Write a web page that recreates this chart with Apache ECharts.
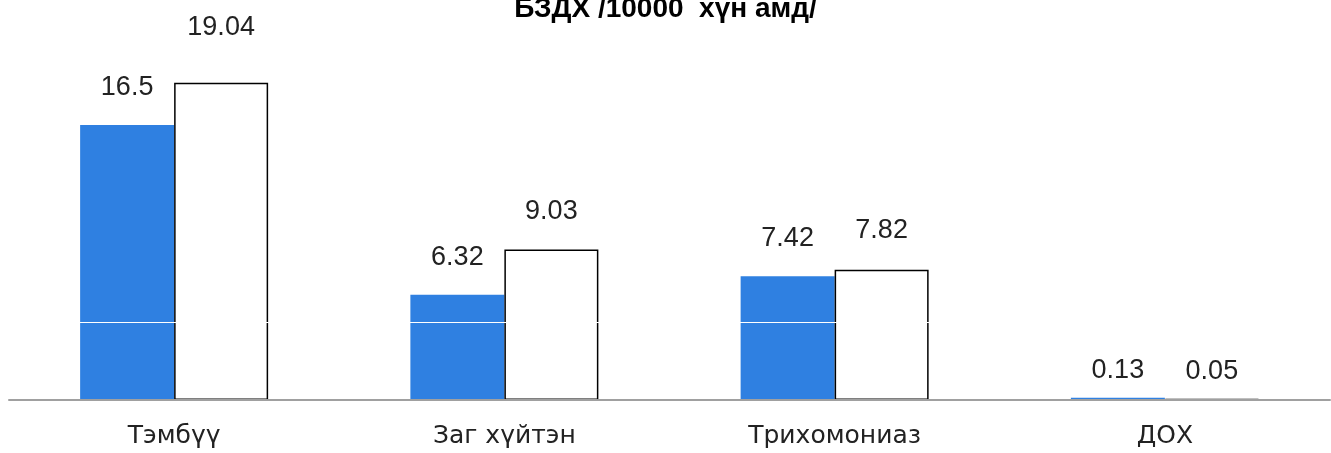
<!DOCTYPE html>
<html>
<head>
<meta charset="utf-8">
<script src="https://cdn.jsdelivr.net/npm/echarts@6/dist/echarts.min.js"></script>
<style>
html,body{margin:0;padding:0;background:#fff;}
#chart{width:1331px;height:453px;}
</style>
</head>
<body>
<div id="chart"></div>
<script>
const titleText = 'БЗДХ /10000  хүн амд/';
const categories = ['Тэмбүү', 'Заг хүйтэн', 'Трихомониаз', 'ДОХ'];
const seriesA = [16.5, 6.32, 7.42, 0.13];
const seriesB = [19.04, 9.03, 7.82, 0.05];
const whiteLineValue = 4.66;

const chart = echarts.init(document.getElementById('chart'));
const labelStyle = {
  show: true,
  position: 'top',
  distance: 24,
  fontFamily: 'Liberation Sans',
  fontSize: 27,
  color: '#222'
};
// label distances tuned to the reference layout (per category)
const distA = [24, 24, 24, 14];
const distB = [42, 24, 26, 14];
chart.setOption({
  animation: false,
  backgroundColor: '#fff',
  title: {
    text: titleText,
    left: 'center',
    top: -10,
    textStyle: {fontFamily: 'Liberation Sans', fontWeight: 'bold', fontSize: 28, color: '#000'}
  },
  grid: {left: 9, right: 1, top: 0, bottom: 53},
  xAxis: {
    type: 'category',
    data: categories,
    axisLine: {show: true, lineStyle: {color: '#a0a0a0', width: 2}},
    axisTick: {show: false},
    axisLabel: {margin: 24, fontFamily: 'DejaVu Sans', fontSize: 25, color: '#222'},
    z: 10
  },
  yAxis: {
    type: 'value',
    min: 0,
    max: 24,
    show: false,
    splitLine: {show: false}
  },
  series: [
    {
      type: 'bar',
      data: seriesA.map((v, i) => ({value: v, label: {distance: distA[i]}})),
      barWidth: 94,
      barGap: '0%',
      itemStyle: {color: '#2f80e1'},
      label: labelStyle,
      markLine: {
        silent: true,
        symbol: 'none',
        label: {show: false},
        lineStyle: {color: '#fff', width: 1, type: 'solid'},
        data: [{yAxis: whiteLineValue}],
        z: 20
      }
    },
    {
      type: 'bar',
      data: seriesB.map((v, i) => ({value: v, label: {distance: distB[i]}})),
      barWidth: 94,
      barGap: '0%',
      itemStyle: {color: '#fff', borderColor: '#000', borderWidth: 1.5},
      label: labelStyle
    }
  ]
});
</script>
</body>
</html>
